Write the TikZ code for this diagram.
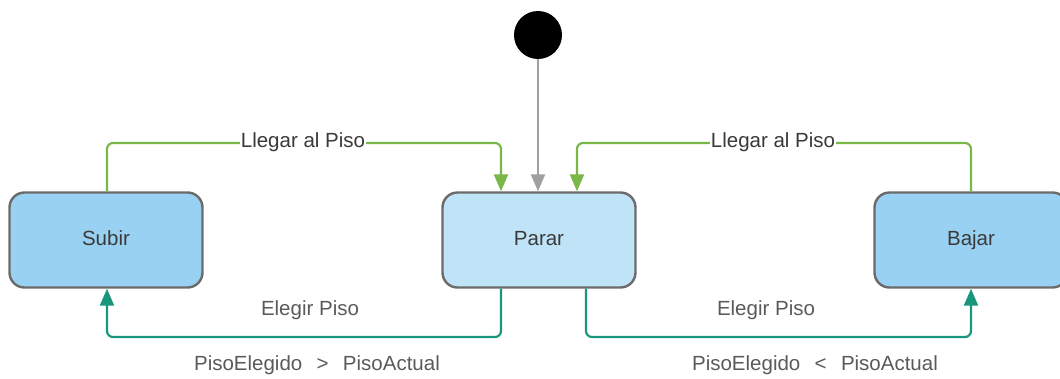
\documentclass[tikz,border=0pt]{standalone}
\usepackage{fontspec}
\setmainfont{Liberation Sans}
\usetikzlibrary{arrows.meta}
\definecolor{stateblue}{HTML}{99D1F2}
\definecolor{stateidle}{HTML}{C0E4F7}
\definecolor{edgegray}{HTML}{6B6B6B}
\definecolor{arrivegreen}{HTML}{7AB648}
\definecolor{chooseteal}{HTML}{19967D}
\definecolor{initgray}{HTML}{A0A0A0}
\definecolor{txtdark}{HTML}{3A3A3A}
\definecolor{txtmid}{HTML}{5A5A5A}
\tikzset{
  statebox/.style={draw=edgegray, line width=2.4pt, rounded corners=15pt,
    minimum width=193pt, minimum height=95pt, inner sep=0pt,
    text height=14.5pt, text depth=4pt,
    text=txtdark, font=\fontsize{20.5}{24}\selectfont},
  tip/.style={-{Triangle[length=17pt,width=14pt]}},
  arrive/.style={tip, draw=arrivegreen, line width=2.2pt, rounded corners=6pt},
  choose/.style={tip, draw=chooseteal, line width=2.2pt, rounded corners=6pt},
  lbl/.style={font=\fontsize{20.5}{24}\selectfont, inner sep=1pt},
}
\begin{document}
\begin{tikzpicture}[x=1pt, y=-1pt]
  \useasboundingbox (0,0) rectangle (1060,378);
  \clip (0,0) rectangle (1060,378);

  % states
  \node[statebox, fill=stateblue] (subir) at (106,240) {Subir};
  \node[statebox, fill=stateidle] (parar) at (539,240) {Parar};
  \node[statebox, fill=stateblue] (bajar) at (971,240) {Bajar};

  % initial pseudo-state
  \node[circle, fill=black, minimum size=48pt, inner sep=0pt] (init) at (538,35) {};
  \draw[tip, draw=initgray, line width=2.2pt] (init.south) -- (init.south |- parar.north);

  % arrival transitions back to Parar
  \coordinate (sUp) at (107,143);
  \coordinate (pUpL) at (501,143);
  \draw[arrive] (subir.north -| sUp) -- (sUp) -- (pUpL) -- (pUpL |- parar.north);
  \node[lbl, fill=white, text=txtdark] (lblA) at (303,142) {Llegar al Piso};

  \coordinate (bUp) at (971,143);
  \coordinate (pUpR) at (577,143);
  \draw[arrive] (bajar.north -| bUp) -- (bUp) -- (pUpR) -- (pUpR |- parar.north);
  \node[lbl, fill=white, text=txtdark] (lblB) at (773,142) {Llegar al Piso};

  % floor selection transitions out of Parar
  \coordinate (pDnL) at (501,337);
  \coordinate (sDn) at (107,337);
  \draw[choose] (pDnL |- parar.south) -- (pDnL) -- (sDn) -- (sDn |- subir.south);
  \node[lbl, text=txtmid] (lblC) at (310,310) {Elegir Piso};
  \node[lbl, text=txtmid] (lblD) at (317,365) {PisoElegido\hspace{0.7em}>\hspace{0.7em}PisoActual};

  \coordinate (pDnR) at (586,337);
  \coordinate (bDn) at (971,337);
  \draw[choose] (pDnR |- parar.south) -- (pDnR) -- (bDn) -- (bDn |- bajar.south);
  \node[lbl, text=txtmid] (lblE) at (766,310) {Elegir Piso};
  \node[lbl, text=txtmid] (lblF) at (815,365) {PisoElegido\hspace{0.7em}<\hspace{0.7em}PisoActual};
\end{tikzpicture}
\end{document}
